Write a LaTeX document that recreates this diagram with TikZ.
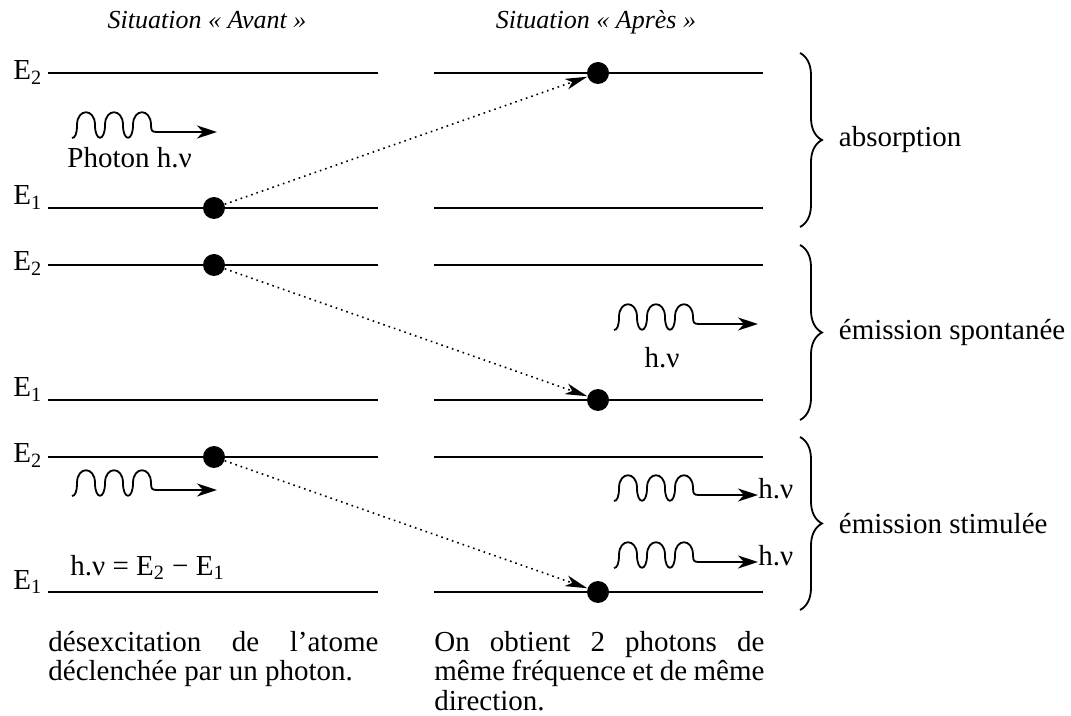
\documentclass[tikz,border=0pt]{standalone}
\usepackage{fontspec}
\setmainfont{Liberation Serif}
\usetikzlibrary{arrows.meta,calc,positioning,decorations.pathreplacing}
\tikzset{
  niveau/.style   = {line width=1pt},
  atom/.style     = {circle, fill=black, inner sep=0pt, minimum size=11pt},
  jump/.style     = {dotted, line width=0.8pt, -{Stealth[length=11pt,width=5.5pt,inset=3pt]}},
  photon/.style   = {line width=0.9pt, -{Stealth[length=10pt,width=6.5pt,inset=3pt]}},
  txt/.style      = {inner sep=0pt, font=\fontsize{14.5}{14.7}\selectfont},
  titre/.style    = {inner sep=0pt, font=\fontsize{13}{15}\selectfont\itshape},
  accolade/.style = {decorate, decoration={brace, amplitude=11pt}, line width=0.9pt}
}
% wave of three arches, then a straight arrow: #1 = x start, #2 = y of the arrow, #3 = tip
\newcommand{\photon}[3]{%
  \draw[photon] (#1,#2+6)
    .. controls +(3,0) and +(0,9) .. ++(5,-13)
    .. controls +(0,-17) and +(0,-17) .. ++(18,0)
    .. controls +(0,17) and +(0,17) .. ++(10,0)
    .. controls +(0,-17) and +(0,-17) .. ++(18,0)
    .. controls +(0,17) and +(0,17) .. ++(10,0)
    .. controls +(0,-17) and +(0,-17) .. ++(18,0)
    .. controls +(0,6) and +(-5,0) .. ++(6,7) -- #3;}

\begin{document}
\begin{tikzpicture}[x=0.5pt,y=-0.5pt]
  \useasboundingbox (0,0) rectangle (1071,716);

  % titles
  \node[titre, anchor=base] (avant) at (207,29) {Situation « Avant »};
  \node[titre, anchor=base] (apres) at (596,29) {Situation « Après »};

  % energy levels
  \draw[niveau] (48,73) -- (378,73) (434,73) -- (763,73);
  \draw[niveau] (48,208) -- (378,208) (434,208) -- (763,208);
  \draw[niveau] (48,265) -- (378,265) (434,265) -- (763,265);
  \draw[niveau] (48,400) -- (378,400) (434,400) -- (763,400);
  \draw[niveau] (48,457) -- (378,457) (434,457) -- (763,457);
  \draw[niveau] (48,592) -- (378,592) (434,592) -- (763,592);

  \node[txt, anchor=base west] (e2a) at (13,80) {E\textsubscript{2}};
  \node[txt, anchor=base west] (e1a) at (13,205) {E\textsubscript{1}};
  \node[txt, anchor=base west] (e2b) at (13,271) {E\textsubscript{2}};
  \node[txt, anchor=base west] (e1b) at (13,397) {E\textsubscript{1}};
  \node[txt, anchor=base west] (e2c) at (13,463) {E\textsubscript{2}};
  \node[txt, anchor=base west] (e1c) at (13,589) {E\textsubscript{1}};

  % absorption
  \node[atom] (abs1) at (214,208) {};
  \node[atom] (abs2) at (598,73) {};
  \draw[jump] (abs1) -- (abs2);
  \photon{72}{132}{(217,132)}
  \node[txt, anchor=base west] (phot) at (67,168) {Photon h.ν};

  % spontaneous emission
  \node[atom] (spo1) at (214,265) {};
  \node[atom] (spo2) at (598,400) {};
  \draw[jump] (spo1) -- (spo2);
  \photon{614}{324}{(758,324)}
  \node[txt, anchor=base] (hvspo) at (662,368) {h.ν};

  % stimulated emission
  \node[atom] (sti1) at (214,457) {};
  \node[atom] (sti2) at (598,592) {};
  \draw[jump] (sti1) -- (sti2);
  \photon{72}{490}{(217,490)}
  \node[txt, anchor=base west] (hvE) at (70,575) {h.ν = E\textsubscript{2} − E\textsubscript{1}};
  \node[txt, anchor=base west] (hvA) at (758,499) {h.ν};
  \node[txt, anchor=base west] (hvB) at (758,566) {h.ν};
  \photon{614}{495}{($(hvA.base west)+(0,-4)$)}
  \photon{614}{562}{($(hvB.base west)+(0,-4)$)}

  % braces
  \draw[accolade] (800,53) -- (800,227) node[txt, midway, right=19pt] {absorption};
  \draw[accolade] (800,245) -- (800,420) node[txt, midway, right=19pt] {émission spontanée};
  \draw[accolade] (800,437) -- (800,610) node[txt, midway, right=19pt] {émission stimulée};

  % comments below the levels
  \node[txt, text width=165pt, align=justify, anchor=north west] (comA) at (48,631)
    {désexcitation de l’atome\linebreak déclenchée par un photon.};
  \node[txt, text width=165pt, align=justify, anchor=north west] (comB) at (434,631)
    {On obtient 2 photons de même fréquence et de même direction.};
\end{tikzpicture}
\end{document}
